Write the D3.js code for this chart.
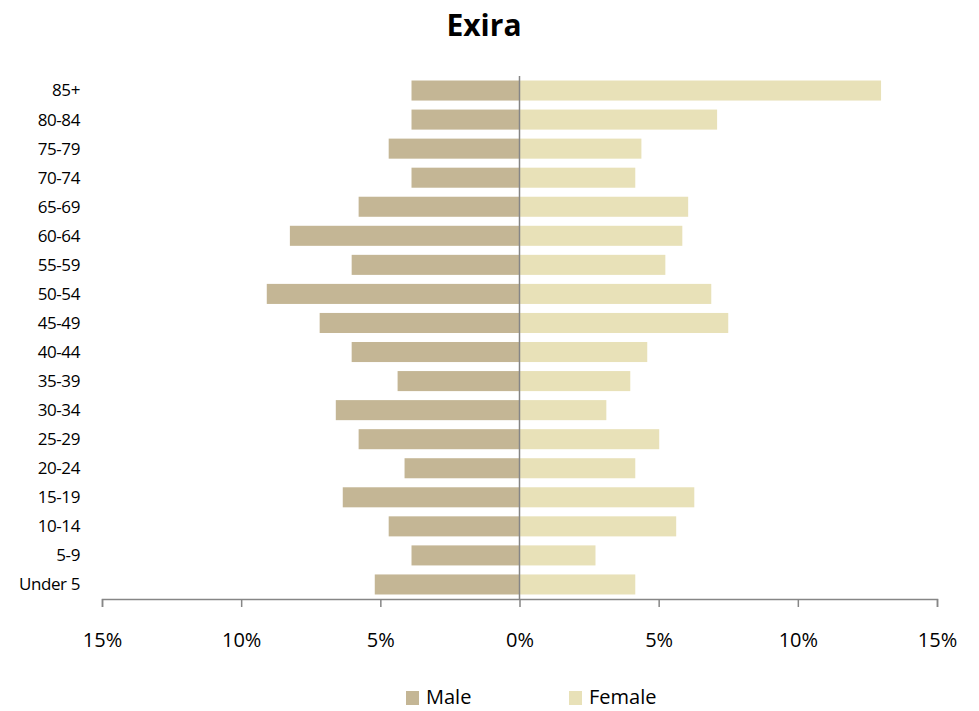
<!DOCTYPE html>
<html>
<head>
<meta charset="utf-8">
<script src="https://cdn.jsdelivr.net/npm/d3@7"></script>
<style>
  body { margin: 0; background: #fff; }
  text { font-family: "Open Sans", sans-serif; }
</style>
</head>
<body>
<div id="chart"></div>
<script>
const ageGroups = ['85+', '80-84', '75-79', '70-74', '65-69', '60-64', '55-59', '50-54', '45-49',
  '40-44', '35-39', '30-34', '25-29', '20-24', '15-19', '10-14', '5-9', 'Under 5'];
const maleValues = [3.88, 3.88, 4.7, 3.88, 5.78, 8.25, 6.03, 9.08, 7.18,
  6.03, 4.38, 6.6, 5.78, 4.13, 6.35, 4.7, 3.88, 5.2];
const femaleValues = [12.99, 7.1, 4.38, 4.16, 6.06, 5.85, 5.24, 6.89, 7.5,
  4.59, 3.98, 3.12, 5.02, 4.16, 6.28, 5.63, 2.73, 4.16];
const tickValues = [-15, -10, -5, 0, 5, 10, 15];
const seriesNames = ['Male', 'Female'];

const width = 979;
const height = 711;
const fontFamily = '"Open Sans", sans-serif';
const colors = { Male: '#c4b695', Female: '#e8e1b8' };

const svg = d3.select('#chart')
  .append('svg')
  .attr('width', width)
  .attr('height', height);

// Title
svg.append('text')
  .attr('x', 484)
  .attr('y', 36)
  .attr('text-anchor', 'middle')
  .attr('font-size', 30)
  .attr('font-weight', 'bold')
  .text('Exira');

// Scales
const x = d3.scaleLinear().domain([-15, 15]).range([102, 937]);
const y = d3.scaleBand().domain(ageGroups).range([76, 599]).paddingInner(0.31).paddingOuter(0.155);

// Bars
svg.selectAll('rect.male')
  .data(ageGroups)
  .enter()
  .append('rect')
  .attr('class', 'male')
  .attr('x', (d, i) => x(-maleValues[i]))
  .attr('y', d => y(d))
  .attr('width', (d, i) => x(0) - x(-maleValues[i]))
  .attr('height', y.bandwidth())
  .attr('fill', colors.Male);

svg.selectAll('rect.female')
  .data(ageGroups)
  .enter()
  .append('rect')
  .attr('class', 'female')
  .attr('x', x(0))
  .attr('y', d => y(d))
  .attr('width', (d, i) => x(femaleValues[i]) - x(0))
  .attr('height', y.bandwidth())
  .attr('fill', colors.Female);

// Category labels
svg.selectAll('text.cat')
  .data(ageGroups)
  .enter()
  .append('text')
  .attr('class', 'cat')
  .attr('x', 80)
  .attr('y', d => y(d) + y.bandwidth() / 2)
  .attr('dy', '0.35em')
  .attr('text-anchor', 'end')
  .attr('font-size', 17)
  .attr('letter-spacing', -0.4)
  .attr('fill', '#000')
  .text(d => d);

// Center axis
svg.append('line')
  .attr('x1', x(0)).attr('x2', x(0))
  .attr('y1', 76).attr('y2', 599)
  .attr('stroke', '#868686')
  .attr('stroke-width', 1.5);

// Bottom axis
const xAxis = d3.axisBottom(x)
  .tickValues(tickValues)
  .tickSize(8)
  .tickPadding(26)
  .tickFormat(d => Math.abs(d) + '%');
const gx = svg.append('g')
  .attr('transform', 'translate(0, 599)')
  .call(xAxis);
gx.select('.domain').attr('stroke', '#868686').attr('stroke-width', 1.5);
gx.selectAll('.tick line').attr('stroke', '#868686').attr('stroke-width', 1.5);
gx.selectAll('.tick text')
  .attr('font-size', 20)
  .attr('fill', '#000')
  .style('font-family', fontFamily);

// Legend
const legend = svg.append('g');
const legendX = [406, 569];
seriesNames.forEach((name, i) => {
  legend.append('rect')
    .attr('x', legendX[i])
    .attr('y', 691)
    .attr('width', 13)
    .attr('height', 14)
    .attr('fill', colors[name]);
  legend.append('text')
    .attr('x', legendX[i] + 20)
    .attr('y', 697)
    .attr('dy', '0.35em')
    .attr('font-size', 20)
    .attr('fill', '#000')
    .text(name);
});
</script>
</body>
</html>
